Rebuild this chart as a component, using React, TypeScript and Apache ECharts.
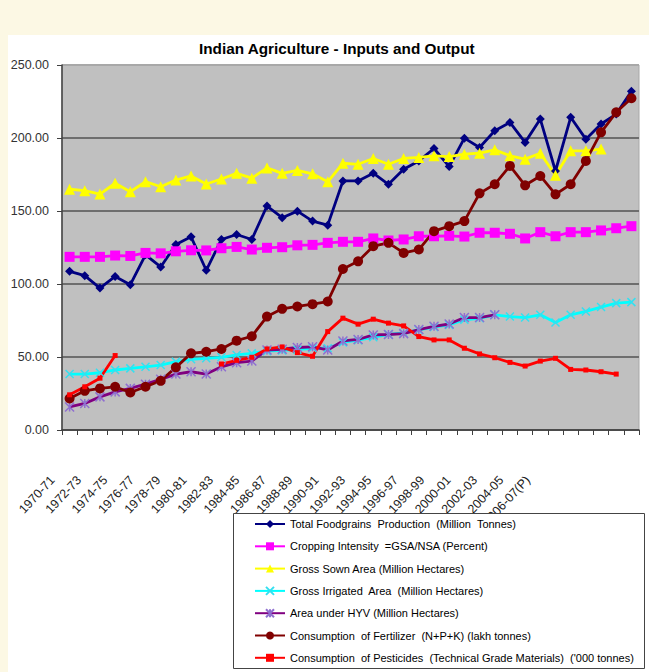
import React, { useEffect, useRef } from "react";
import * as echarts from "echarts";

const categories = [
  "1970-71", "1971-72", "1972-73", "1973-74", "1974-75", "1975-76", "1976-77", "1977-78",
  "1978-79", "1979-80", "1980-81", "1981-82", "1982-83", "1983-84", "1984-85", "1985-86",
  "1986-87", "1987-88", "1988-89", "1989-90", "1990-91", "1991-92", "1992-93", "1993-94",
  "1994-95", "1995-96", "1996-97", "1997-98", "1998-99", "1999-00", "2000-01", "2001-02",
  "2002-03", "2003-04", "2004-05", "2005-06", "2006-07(P)", "2007-08(P)",
];

const foodgrains = [
  108.7, 105.7, 97.2, 105.2, 99.5, 120.0, 111.7, 127.0, 132.3, 109.4, 130.5, 133.9, 130.5,
  153.4, 145.4, 149.9, 143.1, 140.3, 170.6, 170.6, 175.9, 168.3, 178.6, 184.3, 192.8, 180.4,
  199.9, 193.5, 205.0, 210.7, 197.0, 213.0, 177.4, 214.2, 199.2, 209.6, 216.4, 232.0,
];

const croppingIntensity = [
  118.6, 118.6, 118.6, 119.5, 119.2, 121.3, 121.0, 122.4, 123.1, 123.0, 124.5, 125.4, 123.6,
  124.8, 125.2, 126.5, 126.8, 128.2, 128.9, 128.9, 131.2, 129.8, 130.5, 132.7, 132.7, 133.0,
  132.5, 135.1, 135.1, 134.4, 131.2, 135.5, 132.7, 135.5, 135.5, 136.7, 138.2, 139.6,
];

const grossSownArea = [
  164.9, 163.9, 161.6, 169.0, 163.2, 170.1, 166.6, 171.2, 174.0, 168.5, 171.9, 175.8, 172.5,
  179.5, 175.8, 177.8, 175.5, 170.0, 182.7, 182.0, 186.0, 182.0, 186.0, 186.7, 187.8, 187.3,
  188.9, 189.6, 191.9, 187.8, 185.5, 189.6, 174.5, 191.2, 191.2, 192.4, null, null,
];

const grossIrrigatedArea = [
  38.3, 38.3, 39.2, 41.1, 42.2, 43.3, 44.5, 46.8, 48.4, 49.1, 49.8, 51.4, 52.5,
  54.0, 54.5, 55.0, 56.0, 56.0, 60.0, 61.5, 63.5, 65.5, 66.5, 68.5, 70.5, 72.0,
  75.5, 76.5, 78.9, 77.7, 77.0, 78.9, 73.6, 78.9, 81.2, 84.2, 86.9, 87.6,
];

const areaUnderHYV = [
  15.8, 18.2, 22.7, 26.1, 28.5, 31.4, 34.7, 38.3, 39.9, 38.3, 43.3, 46.1, 47.2,
  54.8, 55.3, 56.5, 57.0, 54.8, 61.0, 62.0, 65.1, 65.4, 66.0, 68.8, 71.0, 72.6,
  77.0, 77.0, 78.9, null, null, null, null, null, null, null, null, null,
];

const fertilizer = [
  21.6, 26.8, 28.5, 29.6, 25.7, 29.6, 33.7, 42.9, 52.5, 53.6, 55.5, 61.2, 64.2,
  77.7, 83.0, 84.6, 86.2, 88.0, 110.3, 115.5, 125.9, 128.2, 121.3, 123.6, 136.2, 139.6,
  143.1, 162.1, 168.3, 180.9, 167.6, 174.0, 161.4, 168.3, 184.3, 203.9, 217.6, 227.2,
];

const pesticides = [
  24.1, 29.6, 35.5, 51.0, null, null, null, null, null, null, 45.2, 47.7, 49.8,
  55.5, 56.9, 53.0, 50.5, 67.4, 76.6, 72.5, 75.9, 73.2, 71.3, 64.0, 61.7, 61.7,
  56.0, 52.1, 49.5, 46.3, 43.8, 47.2, 49.1, 41.5, 41.1, 39.9, 38.3, null,
];

const seriesNames = [
  "Total Foodgrains  Production  (Million  Tonnes)",
  "Cropping Intensity  =GSA/NSA (Percent)",
  "Gross Sown Area (Million Hectares)",
  "Gross Irrigated  Area  (Million Hectares)",
  "Area under HYV (Million Hectares)",
  "Consumption  of Fertilizer  (N+P+K) (lakh tonnes)",
  "Consumption  of Pesticides  (Technical Grade Materials)  ('000 tonnes)",
];

const yTicks = [0, 50, 100, 150, 200, 250];

const FONT = "'Liberation Sans', Arial, sans-serif";

export default function App() {
  const ref = useRef<HTMLDivElement>(null);

  useEffect(() => {
    if (!ref.current) return;
    const chart = echarts.init(ref.current, null, { renderer: "svg" });

    const mk = (
      name: string,
      data: (number | null)[],
      color: string,
      symbol: string,
      symbolSize: number
    ) => ({
      name,
      type: "line",
      xAxisIndex: 0,
      yAxisIndex: 0,
      data,
      symbol,
      symbolSize,
      showSymbol: true,
      showAllSymbol: true,
      connectNulls: false,
      lineStyle: { color, width: 2.8 },
      itemStyle: { color },
      emphasis: { disabled: true },
    });

    const option: any = {
      animation: false,
      backgroundColor: "#FCF8E4",
      title: {
        text: "Indian Agriculture - Inputs and Output",
        left: 194,
        top: 36,
        textStyle: { fontFamily: FONT, fontSize: 15.3, fontWeight: "bold", color: "#000" },
      },
      graphic: [
        {
          type: "rect",
          shape: { x: 8, y: 35, width: 641, height: 637 },
          style: { fill: "#FFFFFF" },
          z: -10,
          silent: true,
        },
        {
          type: "rect",
          shape: { x: 233.5, y: 513.5, width: 411, height: 155 },
          style: { fill: "#FFFFFF", stroke: "#444444", lineWidth: 1 },
          z: 3,
          silent: true,
        },
      ],
      grid: [
        {
          left: 62,
          top: 65,
          width: 577,
          height: 365,
          show: true,
          backgroundColor: "#C0C0C0",
          borderColor: "#A8A8A8",
          borderWidth: 1,
        },
        { left: 46, top: 468, width: 501.6, height: 2 },
      ],
      xAxis: [
        {
          gridIndex: 0,
          type: "category",
          data: categories,
          boundaryGap: true,
          axisLine: { show: true, lineStyle: { color: "#404040", width: 1.5 } },
          axisTick: { show: true, interval: 0, length: 5, lineStyle: { color: "#404040" } },
          axisLabel: { show: false },
          splitLine: { show: false },
        },
        {
          gridIndex: 1,
          type: "category",
          data: categories,
          boundaryGap: true,
          axisLine: { show: false },
          axisTick: { show: false },
          axisLabel: {
            show: true,
            interval: 1,
            rotate: 47,
            margin: 8,
            fontFamily: FONT,
            fontSize: 12.5,
            color: "#1a1a1a",
          },
          splitLine: { show: false },
        },
      ],
      yAxis: [
        {
          gridIndex: 0,
          type: "value",
          min: yTicks[0],
          max: yTicks[yTicks.length - 1],
          interval: 50,
          axisLine: { show: true, lineStyle: { color: "#404040", width: 1.5 } },
          axisTick: { show: true, length: 5, lineStyle: { color: "#404040" } },
          axisLabel: {
            formatter: (v: number) => v.toFixed(2),
            fontFamily: FONT,
            fontSize: 12.5,
            color: "#333",
            margin: 13,
          },
          splitLine: {
            show: true,
            lineStyle: {
              color: ["#6e6e6e", "#6e6e6e", "#6e6e6e", "#6e6e6e", "#6e6e6e", "#A8A8A8"],
              width: 2,
            },
          },
        },
        { gridIndex: 1, type: "value", show: false },
      ],
      legend: {
        orient: "vertical",
        left: 254,
        top: 517,
        padding: 0,
        itemWidth: 30,
        itemHeight: 10,
        itemGap: 8.3,
        z: 6,
        selectedMode: false,
        textStyle: { fontFamily: FONT, fontSize: 11, color: "#000", lineHeight: 14 },
        data: seriesNames,
      },
      series: [
        mk(seriesNames[0], foodgrains, "#000080", "diamond", 9),
        mk(seriesNames[1], croppingIntensity, "#FF00FF", "rect", 10),
        mk(seriesNames[2], grossSownArea, "#FFFF00", "triangle", 11),
        {
          ...mk(seriesNames[3], grossIrrigatedArea, "#00FFFF", "path://M0 0L10 10M10 0L0 10", 8),
          itemStyle: { color: "#00FFFF", borderColor: "#33E0F0", borderWidth: 1.5 },
        },
        {
          ...mk(seriesNames[4], areaUnderHYV, "#800080", "path://M0 0L10 10M10 0L0 10M5 0L5 10", 9),
          itemStyle: { color: "#800080", borderColor: "#8F6FD0", borderWidth: 1.5 },
        },
        mk(seriesNames[5], fertilizer, "#800000", "circle", 10),
        mk(seriesNames[6], pesticides, "#FF0000", "rect", 5),
      ],
    };

    chart.setOption(option);
    return () => chart.dispose();
  }, []);

  return (
    <div
      ref={ref}
      style={{ position: "fixed", left: 0, top: 0, width: 649, height: 672 }}
    />
  );
}
